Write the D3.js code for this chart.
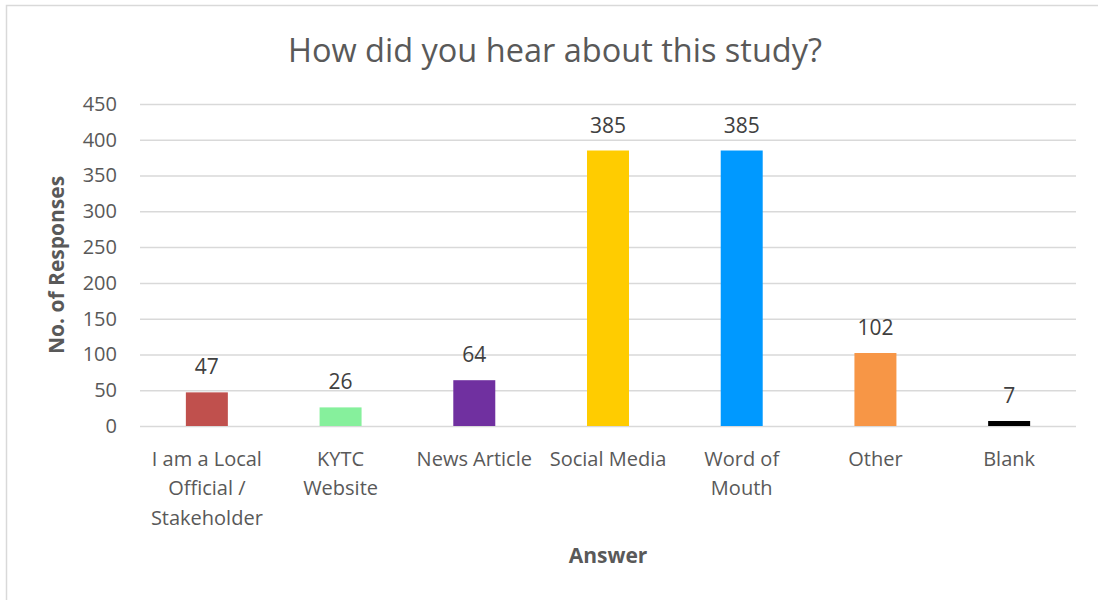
<!DOCTYPE html>
<html>
<head>
<meta charset="utf-8">
<script src="https://cdn.jsdelivr.net/npm/d3@7/dist/d3.min.js"></script>
<style>
  html, body { margin: 0; padding: 0; background: #fff; }
  svg { display: block; font-family: "Open Sans", sans-serif; }
</style>
</head>
<body>
<svg id="chart" width="1098" height="600"></svg>
<script>
// Survey answers and response counts
const categories = [
  ["I am a Local", "Official /", "Stakeholder"],
  ["KYTC", "Website"],
  ["News Article"],
  ["Social Media"],
  ["Word of", "Mouth"],
  ["Other"],
  ["Blank"]
];
const responses = [47, 26, 64, 385, 385, 102, 7];
const barColors = ["#C0504D", "#86F09C", "#7030A0", "#FFCC00", "#0099FF", "#F79646", "#000000"];
const yTicks = [0, 50, 100, 150, 200, 250, 300, 350, 400, 450];

const svg = d3.select("#chart");
const plot = { left: 140, right: 1076, top: 104, bottom: 426 };
const keys = categories.map(c => c.join(" "));

// chart frame
svg.append("rect")
  .attr("x", 6.5).attr("y", 5.5)
  .attr("width", 1120).attr("height", 620)
  .attr("fill", "#fff").attr("stroke", "#d9d9d9").attr("stroke-width", 1.5);

const x = d3.scaleBand().domain(keys).range([plot.left, plot.right]).paddingInner(0.686).paddingOuter(0.343);
const y = d3.scaleLinear().domain([0, 450]).range([plot.bottom, plot.top]);

// gridlines and value axis
const yAxis = d3.axisLeft(y).tickValues(yTicks).tickSize(-(plot.right - plot.left)).tickPadding(23);
const gy = svg.append("g").attr("transform", `translate(${plot.left},0)`).call(yAxis);
gy.select(".domain").remove();
gy.selectAll(".tick line").attr("stroke", "#d9d9d9").attr("stroke-width", 1.5);
gy.selectAll(".tick text").attr("fill", "#595959").style("font-size", "20px").style("font-family", "'Open Sans', sans-serif");

// bars
svg.append("g").selectAll("rect").data(responses).join("rect")
  .attr("x", (d, i) => x(keys[i]))
  .attr("width", x.bandwidth())
  .attr("y", d => y(d))
  .attr("height", d => y(0) - y(d))
  .attr("fill", (d, i) => barColors[i]);

// value labels
svg.append("g").selectAll("text").data(responses).join("text")
  .attr("x", (d, i) => x(keys[i]) + x.bandwidth() / 2)
  .attr("y", d => y(d) - 18)
  .attr("text-anchor", "middle")
  .attr("fill", "#404040")
  .style("font-size", "21px")
  .text(d => d);

// category labels
const xl = svg.append("g").selectAll("text").data(categories).join("text")
  .attr("x", (d, i) => x(keys[i]) + x.bandwidth() / 2)
  .attr("y", 466)
  .attr("text-anchor", "middle")
  .attr("fill", "#595959")
  .style("font-size", "20px");
xl.selectAll("tspan").data((d, i) => d.map(t => ({ t, cx: x(keys[i]) + x.bandwidth() / 2 }))).join("tspan")
  .attr("x", d => d.cx)
  .attr("dy", (d, j) => j === 0 ? 0 : 29.3)
  .text(d => d.t);

// title
svg.append("text")
  .attr("x", 555).attr("y", 62)
  .attr("text-anchor", "middle")
  .attr("fill", "#595959")
  .style("font-size", "32.5px")
  .text("How did you hear about this study?");

// axis titles
svg.append("text")
  .attr("x", 608).attr("y", 563)
  .attr("text-anchor", "middle")
  .attr("fill", "#595959")
  .style("font-size", "21px").style("font-weight", "bold")
  .text("Answer");

svg.append("text")
  .attr("transform", `translate(64,265) rotate(-90)`)
  .attr("text-anchor", "middle")
  .attr("fill", "#595959")
  .style("font-size", "21px").style("font-weight", "bold")
  .text("No. of Responses");
</script>
</body>
</html>
